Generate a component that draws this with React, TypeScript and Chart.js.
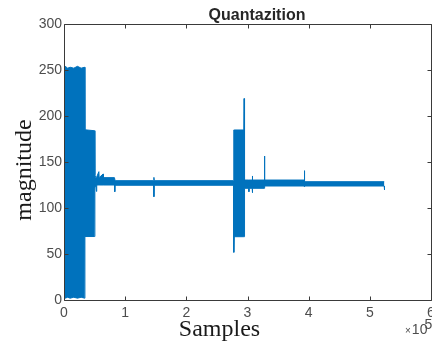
import React, { useEffect, useRef } from 'react';
import { Chart, registerables } from 'chart.js';

Chart.register(...registerables);

// Sample index in units of 10^5
const sampleX = [
  0.0, 0.02, 0.06, 0.1, 0.16, 0.22, 0.28, 0.338, 0.342, 0.5, 0.505, 0.52, 0.53, 0.535, 0.57, 0.575,
  0.64, 0.645, 0.825, 0.83, 0.835, 1.465, 1.47, 1.475, 2.772, 2.776, 2.782, 2.94, 2.944, 2.948,
  2.955, 3.02, 3.023, 3.026, 3.077, 3.08, 3.083, 3.275, 3.278, 3.282, 3.925, 3.93, 3.935, 5.235, 5.24,
];
// Upper envelope of the quantized magnitude
const upperEnv = [
  252, 254, 252, 253, 252, 254, 252, 253, 185, 184, 136, 133, 133, 133, 139.5, 133,
  137, 133, 133, 133, 129.7, 129.7, 133.3, 129.7, 129.7, 184.8, 184.8, 184.8, 219, 184.8,
  130.4, 130.4, 130.4, 130.4, 130.4, 134.8, 130.4, 130.4, 156.5, 130.4, 130.4, 140.6, 128.6, 128.6, 128.6,
];
// Lower envelope of the quantized magnitude
const lowerEnv = [
  3, 2, 3, 2, 3, 2, 3, 2, 69, 69, 122, 125, 118, 125, 125, 125,
  125, 125, 125, 117.7, 124.7, 124.7, 112.3, 124.7, 124.7, 51.8, 68.8, 68.8, 68.8, 68.8,
  121.4, 121.4, 117.7, 121.4, 121.4, 116.6, 121.4, 121.4, 121.4, 123.9, 123.9, 123, 123.9, 123.9, 119.6,
];

const xTickValues = [0, 1, 2, 3, 4, 5, 6];
const yTickValues = [0, 50, 100, 150, 200, 250, 300];

const titleText = 'Quantazition';
const xLabelText = 'Samples';
const yLabelText = 'magnitude';

const LINE_COLOR = '#0072BD';
const AXIS_COLOR = '#3a3a3a';
const TICK_FONT = '"Liberation Sans", Arial, Helvetica, sans-serif';
const SERIF_FONT = '"Liberation Serif", "Times New Roman", Times, serif';

const boxPlugin = {
  id: 'matlabBox',
  afterDatasetsDraw(chart: any) {
    const { ctx, chartArea, scales } = chart;
    const { left, right, top, bottom } = chartArea;
    const L = Math.round(left) + 0.5;
    const R = Math.round(right) + 0.5;
    const T = Math.round(top) + 0.5;
    const B = Math.round(bottom) + 0.5;
    const len = 4;
    ctx.save();
    ctx.strokeStyle = AXIS_COLOR;
    ctx.lineWidth = 1;
    ctx.beginPath();
    ctx.moveTo(L, T);
    ctx.lineTo(R, T);
    ctx.lineTo(R, B);
    ctx.lineTo(L, B);
    ctx.closePath();
    xTickValues.forEach((v) => {
      const px = Math.round(scales.x.getPixelForValue(v)) + 0.5;
      ctx.moveTo(px, B);
      ctx.lineTo(px, B - len);
      ctx.moveTo(px, T);
      ctx.lineTo(px, T + len);
    });
    yTickValues.forEach((v) => {
      const py = Math.round(scales.y.getPixelForValue(v)) + 0.5;
      ctx.moveTo(L, py);
      ctx.lineTo(L + len, py);
      ctx.moveTo(R, py);
      ctx.lineTo(R - len, py);
    });
    ctx.stroke();
    ctx.restore();
  },
};

export default function App() {
  const canvasRef = useRef<HTMLCanvasElement | null>(null);

  useEffect(() => {
    document.body.style.margin = '0';
    document.body.style.overflow = 'hidden';
    const canvas = canvasRef.current;
    if (!canvas) return;
    const upper = sampleX.map((x, i) => ({ x, y: upperEnv[i] }));
    const lower = sampleX.map((x, i) => ({ x, y: lowerEnv[i] }));
    const chart = new Chart(canvas, {
      type: 'line',
      data: {
        datasets: [
          {
            label: 'upper',
            data: upper,
            borderColor: LINE_COLOR,
            backgroundColor: LINE_COLOR,
            borderWidth: 1,
            pointRadius: 0,
            tension: 0,
            fill: '+1',
          },
          {
            label: 'lower',
            data: lower,
            borderColor: LINE_COLOR,
            backgroundColor: LINE_COLOR,
            borderWidth: 1,
            pointRadius: 0,
            tension: 0,
            fill: false,
          },
        ],
      },
      options: {
        responsive: false,
        animation: false,
        events: [],
        layout: { padding: { left: 0, top: 24, right: 28, bottom: 0 } },
        plugins: {
          legend: { display: false },
          tooltip: { enabled: false },
          title: { display: false },
        },
        scales: {
          x: {
            type: 'linear',
            min: 0,
            max: 6,
            afterBuildTicks: (s: any) => {
              s.ticks = xTickValues.map((v) => ({ value: v }));
            },
            ticks: {
              color: '#4d4d4d',
              font: { family: TICK_FONT, size: 14 },
              padding: 5,
              maxRotation: 0,
              autoSkip: false,
            },
            grid: { display: false, drawTicks: false },
            border: { display: false },
            afterFit: (s: any) => {
              s.height = 42;
            },
          },
          y: {
            type: 'linear',
            min: 0,
            max: 300,
            afterBuildTicks: (s: any) => {
              s.ticks = yTickValues.map((v) => ({ value: v }));
            },
            ticks: {
              color: '#4d4d4d',
              font: { family: TICK_FONT, size: 14 },
              padding: 2,
              autoSkip: false,
            },
            grid: { display: false, drawTicks: false },
            border: { display: false },
            afterFit: (s: any) => {
              s.width = 64;
            },
          },
        },
      },
      plugins: [boxPlugin],
    });
    return () => chart.destroy();
  }, []);

  return (
    <div style={{ position: 'relative', width: 432, height: 342, overflow: 'hidden', background: '#fff' }}>
      <canvas ref={canvasRef} width={459} height={342} style={{ display: 'block', width: 459, height: 342 }} />
      <div
        style={{
          position: 'absolute',
          left: 257,
          top: 7,
          transform: 'translateX(-50%)',
          font: `bold 16px ${TICK_FONT}`,
          lineHeight: '16px',
          color: '#262626',
          whiteSpace: 'nowrap',
        }}
      >
        {titleText}
      </div>
      <div
        style={{
          position: 'absolute',
          left: 219.5,
          top: 316,
          transform: 'translateX(-50%)',
          font: `24px ${SERIF_FONT}`,
          lineHeight: '24px',
          color: '#1a1a1a',
          whiteSpace: 'nowrap',
        }}
      >
        {xLabelText}
      </div>
      <div
        style={{
          position: 'absolute',
          left: 23 - 70,
          top: 169.5 - 12,
          width: 140,
          height: 24,
          textAlign: 'center',
          transform: 'rotate(-90deg)',
          transformOrigin: '50% 50%',
          font: `24px ${SERIF_FONT}`,
          lineHeight: '24px',
          color: '#1a1a1a',
          whiteSpace: 'nowrap',
        }}
      >
        {yLabelText}
      </div>
      <div
        style={{
          position: 'absolute',
          left: 405,
          top: 322,
          width: 60,
          font: `14px ${TICK_FONT}`,
          lineHeight: '14px',
          color: '#4d4d4d',
          whiteSpace: 'nowrap',
        }}
      >
        <span style={{ fontSize: 10 }}>×</span>
        <span style={{ marginLeft: 1 }}>10</span>
        <span style={{ position: 'relative', top: -5, marginLeft: -3 }}>5</span>
      </div>
    </div>
  );
}
